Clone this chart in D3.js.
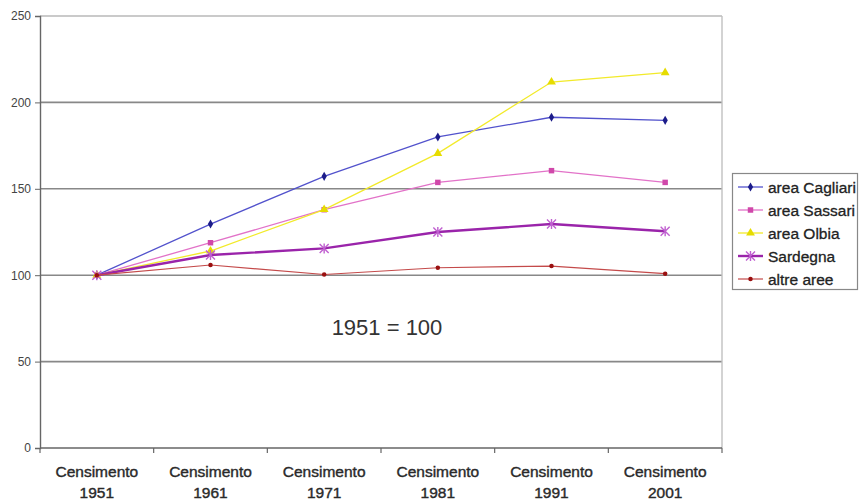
<!DOCTYPE html>
<html><head><meta charset="utf-8">
<script src="https://cdn.jsdelivr.net/npm/d3@7"></script>
<style>body{margin:0;background:#fff}svg{display:block;font-family:"Liberation Sans",Arial,sans-serif}</style>
</head><body><svg id="c" width="860" height="504"></svg>
<script>
const categories = ["1951","1961","1971","1981","1991","2001"];
const categoryPrefix = "Censimento";
const yTicks = [0,50,100,150,200,250];
const seriesNames = ["area Cagliari","area Sassari","area Olbia","Sardegna","altre aree"];
const cagliari = [100,129.6,157.2,180,191.4,189.6];
const sassari = [100,118.8,137.9,153.7,160.5,153.7];
const olbia = [100,114,138,170.5,211.8,217.2];
const sardegna = [100,111.7,115.5,125,129.6,125.4];
const altre = [100,105.9,100.4,104.3,105.3,100.9];
const annotation = "1951 = 100";

const seriesData = [cagliari, sassari, olbia, sardegna, altre];
const styles = [
  {line:"#5252cc", mark:"#1c1c8a", w:1.3, sym:"diamond", size:24},
  {line:"#e272c8", mark:"#d048aa", w:1.3, sym:"square", size:30},
  {line:"#f2ea2a", mark:"#e6dc00", w:1.3, sym:"triangle", size:34},
  {line:"#9a24aa", mark:"#c060d0", w:2.4, sym:"star", size:0},
  {line:"#c44a4a", mark:"#9a1010", w:1.2, sym:"circle", size:16}
];

const svg = d3.select("#c");
const L=40, R=722, T=16, B=448;
const x = d3.scaleBand().domain(categories).range([L,R]).padding(0);
const y = d3.scaleLinear().domain([0,250]).range([B,T]);

svg.append("g").selectAll("line").data(yTicks.filter(d=>d>0&&d<250)).join("line")
  .attr("x1",L).attr("x2",R).attr("y1",d=>y(d)).attr("y2",d=>y(d))
  .attr("stroke","#888").attr("stroke-width",1.6);
svg.append("line").attr("x1",L).attr("x2",R).attr("y1",y(250)).attr("y2",y(250)).attr("stroke","#b8b8b8").attr("stroke-width",1.4);
svg.append("line").attr("x1",R).attr("x2",R).attr("y1",y(250)).attr("y2",B).attr("stroke","#c0c0c0").attr("stroke-width",1.4);

const ya = svg.append("g").attr("transform",`translate(${L},0)`)
  .call(d3.axisLeft(y).tickValues(yTicks).tickSize(5).tickPadding(4).tickFormat(d3.format("d")));
ya.select(".domain").attr("stroke","#666").attr("stroke-width",1.4);
ya.selectAll(".tick line").attr("stroke","#666");
ya.selectAll("text").attr("font-size",12).attr("fill","#444").attr("font-family","Liberation Sans, Arial, sans-serif");

const xa = svg.append("g").attr("transform",`translate(0,${B})`);
xa.append("line").attr("x1",L).attr("x2",R).attr("stroke","#666").attr("stroke-width",1.4);
const bounds = categories.map(c=>x(c)).concat([R]);
xa.selectAll("line.tk").data(bounds).join("line").attr("class","tk")
  .attr("x1",d=>d).attr("x2",d=>d).attr("y1",0).attr("y2",5).attr("stroke","#666").attr("stroke-width",1.2);
const lbl = xa.selectAll("text.cat").data(categories).join("text").attr("class","cat")
  .attr("x",d=>x(d)+x.bandwidth()/2).attr("text-anchor","middle")
  .attr("font-size",15.5).attr("fill","#2a2a2a").attr("stroke","#2a2a2a").attr("stroke-width",0.4);
lbl.append("tspan").attr("x",d=>x(d)+x.bandwidth()/2).attr("y",29).text(categoryPrefix);
lbl.append("tspan").attr("x",d=>x(d)+x.bandwidth()/2).attr("y",50).text(d=>d);

function drawMarker(g, st, cx, cy){
  if(st.sym==="star"){
    const s=4.5;
    const p=`M${cx-s},${cy-s}L${cx+s},${cy+s}M${cx-s},${cy+s}L${cx+s},${cy-s}M${cx},${cy-s-0.5}L${cx},${cy+s+0.5}`;
    g.append("path").attr("d",p).attr("stroke",st.mark).attr("stroke-width",1.4).attr("fill","none");
  } else {
    const t = {diamond:d3.symbolDiamond,square:d3.symbolSquare,triangle:d3.symbolTriangle,circle:d3.symbolCircle}[st.sym];
    g.append("path").attr("d",d3.symbol().type(t).size(st.size)()).attr("transform",`translate(${cx},${cy})`).attr("fill",st.mark);
  }
}

const line = d3.line().x((d,i)=>x(categories[i])+x.bandwidth()/2).y(d=>y(d));
seriesData.forEach((vals,k)=>{
  const st=styles[k];
  const g=svg.append("g");
  g.append("path").attr("d",line(vals)).attr("fill","none").attr("stroke",st.line).attr("stroke-width",st.w);
  vals.forEach((v,i)=>drawMarker(g,st,x(categories[i])+x.bandwidth()/2,y(v)));
});

svg.append("text").attr("x",387).attr("y",335).attr("text-anchor","middle").attr("font-size",22).attr("fill","#333").text(annotation);

const lg = svg.append("g");
lg.append("rect").attr("x",732.5).attr("y",173.5).attr("width",125).attr("height",116).attr("fill","#fff").attr("stroke","#888").attr("stroke-width",1.2);
seriesNames.forEach((n,k)=>{
  const st=styles[k]; const cy=187+k*23;
  lg.append("line").attr("x1",738).attr("x2",763).attr("y1",cy).attr("y2",cy).attr("stroke",st.line).attr("stroke-width",st.w);
  drawMarker(lg,st,750.5,cy);
  lg.append("text").attr("x",768).attr("y",cy+5.5).attr("font-size",15.5).attr("fill","#222").attr("stroke","#222").attr("stroke-width",0.3).text(n);
});
</script></body></html>
